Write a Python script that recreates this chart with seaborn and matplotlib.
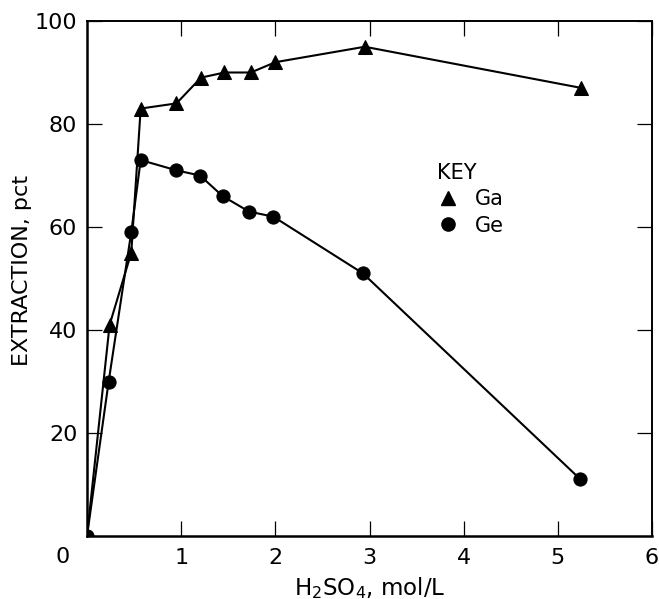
import matplotlib
matplotlib.use("Agg")
import matplotlib.pyplot as plt
from matplotlib.lines import Line2D
import pandas as pd
import seaborn as sns

# Extraction (pct) versus sulfuric acid concentration (mol/L)
ga_acid = [0.0, 0.24, 0.47, 0.57, 0.95, 1.21, 1.46, 1.74, 2.0, 2.95, 5.25]
ga_extraction = [0, 41, 55, 83, 84, 89, 90, 90, 92, 95, 87]
ge_acid = [0.0, 0.23, 0.47, 0.57, 0.95, 1.2, 1.44, 1.72, 1.98, 2.93, 5.24]
ge_extraction = [0, 30, 59, 73, 71, 70, 66, 63, 62, 51, 11]

x_ticks = [1, 2, 3, 4, 5, 6]
y_ticks = [20, 40, 60, 80, 100]

df = pd.concat([
    pd.DataFrame({"acid": ga_acid, "extraction": ga_extraction, "metal": "Ga"}),
    pd.DataFrame({"acid": ge_acid, "extraction": ge_extraction, "metal": "Ge"}),
])

sns.set_style("ticks")
plt.rcParams["font.family"] = ["DejaVu Sans"]
plt.rcParams["text.color"] = "black"
plt.rcParams["axes.labelcolor"] = "black"

fig = plt.figure(figsize=(6.59, 5.99), dpi=100)
ax = fig.add_axes([87 / 659, 1 - 536 / 599, 565 / 659, 515 / 599])

marker_sizes = {"Ga": 10.5, "Ge": 9.5}
for metal, marker in (("Ga", "^"), ("Ge", "o")):
    sub = df[df["metal"] == metal]
    sns.lineplot(data=sub, x="acid", y="extraction", ax=ax, color="black",
                 linewidth=1.5, marker=marker, markersize=marker_sizes[metal],
                 markeredgecolor="black", estimator=None, sort=False,
                 legend=False, clip_on=True)

ax.set_xlim(0, 6)
ax.set_ylim(0, 100)
ax.set_xticks(x_ticks)
ax.set_xticklabels([str(t) for t in x_ticks])
ax.set_yticks(y_ticks)
ax.set_yticklabels([str(t) for t in y_ticks])
ax.tick_params(direction="in", length=11, width=0.9, labelsize=16,
               top=True, right=True, colors="black", labelcolor="black", pad=7)
ax.tick_params(axis="x", pad=9)
for side in ax.spines.values():
    side.set_linewidth(1.4)
    side.set_color("black")
ax.spines["left"].set_linewidth(1.8)
ax.spines["bottom"].set_linewidth(1.8)

# shared origin label at the corner
ax.annotate("0", xy=(0, 0), xycoords="axes fraction", xytext=(-17.5, -15),
            textcoords="offset points", ha="center", va="center",
            fontsize=16, color="black")

ax.set_xlabel("H$_2$SO$_4$, mol/L", fontsize=16.5, color="black")
ax.set_ylabel("EXTRACTION, pct", fontsize=16, color="black")
ax.xaxis.set_label_coords(0.5, -0.075)
ax.yaxis.set_label_coords(-0.097, 0.515)

handles = [Line2D([], [], marker="^", ls="none", color="black", markersize=10.5),
           Line2D([], [], marker="o", ls="none", color="black", markersize=9.5)]
leg = ax.legend(handles, ["Ga", "Ge"], title="KEY", frameon=False, fontsize=15,
                title_fontsize=15, alignment="left", loc="upper left",
                bbox_to_anchor=(0.62, 0.724), borderpad=0, borderaxespad=0,
                handlelength=1.0, handletextpad=0.8, labelspacing=0.3)
for txt in leg.get_texts():
    txt.set_color("black")
leg.get_title().set_color("black")

fig.savefig("out.png", dpi=100, facecolor="white")
